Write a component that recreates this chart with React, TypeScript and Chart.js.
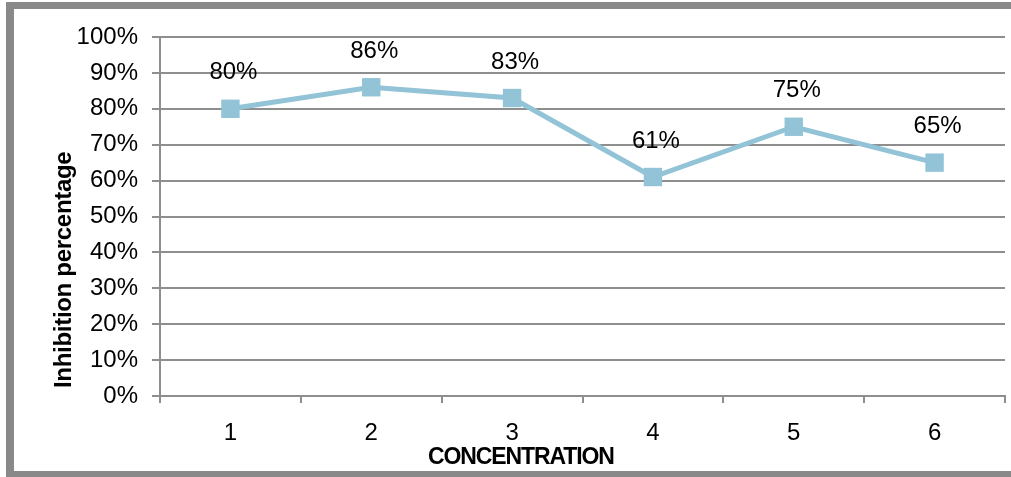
import React, { useEffect, useRef } from "react";
import { Chart, registerables } from "chart.js";

Chart.register(...registerables);

const categories = ["1", "2", "3", "4", "5", "6"];
const inhibition = [80, 86, 83, 61, 75, 65];
const yTicks = [0, 10, 20, 30, 40, 50, 60, 70, 80, 90, 100];
const xTitle = "CONCENTRATION";
const yTitle = "Inhibition percentage";

const FONT = "'Liberation Sans', Arial, sans-serif";
const GRID = "#8e8e8e";
const LINE = "#92c3d6";

const framePlugin = {
  id: "frame",
  beforeDraw(chart: any) {
    const ctx = chart.ctx;
    ctx.save();
    ctx.fillStyle = "#ffffff";
    ctx.fillRect(0, 0, chart.width, chart.height);
    ctx.fillStyle = "#898989";
    ctx.fillRect(6, 2, chart.width, chart.height);
    ctx.fillStyle = "#ffffff";
    ctx.fillRect(14, 9, chart.width, 462);
    ctx.restore();
  },
};

const titlesPlugin = {
  id: "axisTitles",
  afterDraw(chart: any) {
    const ctx = chart.ctx;
    ctx.save();
    ctx.fillStyle = "#000000";
    // x title
    ctx.font = `bold 23px ${FONT}`;
    (ctx as any).letterSpacing = "-1.1px";
    ctx.textAlign = "left";
    ctx.textBaseline = "alphabetic";
    ctx.fillText(xTitle, 428, 464);
    // y title
    ctx.font = `bold 24px ${FONT}`;
    (ctx as any).letterSpacing = "-0.3px";
    ctx.translate(64, 388);
    ctx.rotate(-Math.PI / 2);
    ctx.textAlign = "left";
    ctx.textBaseline = "middle";
    ctx.fillText(yTitle, 0, 0);
    ctx.restore();
  },
};

const labelPlugin = {
  id: "pointLabels",
  afterDatasetsDraw(chart: any) {
    const ctx = chart.ctx;
    const meta = chart.getDatasetMeta(0);
    ctx.save();
    ctx.font = `24px ${FONT}`;
    ctx.fillStyle = "#000000";
    ctx.textAlign = "center";
    ctx.textBaseline = "middle";
    meta.data.forEach((pt: any, i: number) => {
      ctx.fillText(`${inhibition[i]}%`, pt.x + 3, pt.y - 36);
    });
    ctx.restore();
  },
};

export default function App() {
  const ref = useRef<HTMLCanvasElement>(null);
  useEffect(() => {
    if (!ref.current) return;
    const chart = new Chart(ref.current, {
      type: "line",
      data: {
        labels: categories,
        datasets: [
          {
            data: inhibition,
            borderColor: LINE,
            backgroundColor: LINE,
            borderWidth: 5,
            pointStyle: "rect",
            pointRadius: 13,
            pointBackgroundColor: LINE,
            pointBorderColor: LINE,
            pointBorderWidth: 0,
            tension: 0,
          },
        ],
      },
      options: {
        responsive: false,
        animation: false,
        devicePixelRatio: 1,
        layout: { padding: { top: 37, right: 0, bottom: 0, left: 0 } },
        plugins: {
          legend: { display: false },
          tooltip: { enabled: false },
        },
        scales: {
          x: {
            type: "category",
            offset: true,
            grid: {
              offset: true,
              drawOnChartArea: false,
              drawTicks: true,
              tickLength: 7,
              color: GRID,
              lineWidth: 2,
            },
            border: { display: true, color: GRID, width: 2 },
            ticks: {
              color: "#000000",
              font: { family: FONT, size: 24 },
              padding: 16,
              maxRotation: 0,
            },
            afterFit(scale: any) {
              scale.height = 81;
              scale.paddingLeft = 0;
              scale.paddingRight = 0;
            },
          },
          y: {
            min: 0,
            max: 100,
            afterBuildTicks(scale: any) {
              scale.ticks = yTicks.map((v) => ({ value: v }));
            },
            grid: {
              color: GRID,
              lineWidth: 2,
              drawTicks: true,
              tickLength: 8,
            },
            border: { display: true, color: GRID, width: 2 },
            ticks: {
              color: "#000000",
              font: { family: FONT, size: 24 },
              padding: 14,
              callback: (v: any) => `${v}%`,
            },
            afterFit(scale: any) {
              scale.width = 160;
            },
          },
        },
      },
      plugins: [framePlugin, labelPlugin, titlesPlugin],
    });
    return () => chart.destroy();
  }, []);

  return (
    <div
      style={{
        position: "absolute",
        left: 0,
        top: 0,
        width: 1011,
        height: 477,
        overflow: "hidden",
      }}
    >
      <canvas ref={ref} width={1018} height={477} style={{ display: "block" }} />
    </div>
  );
}
